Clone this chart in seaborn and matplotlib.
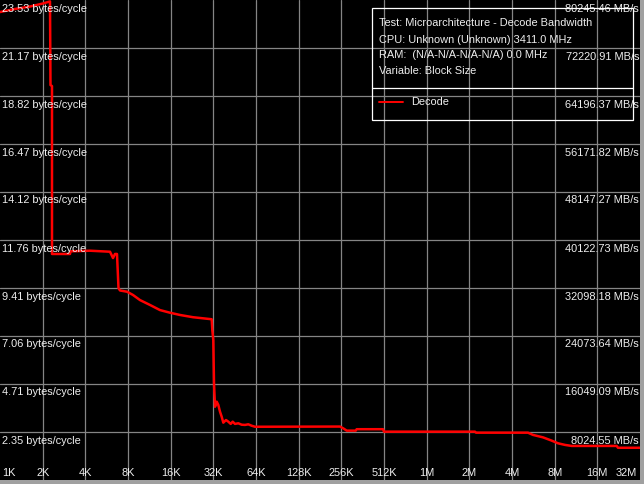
import matplotlib
matplotlib.use("Agg")
import matplotlib.pyplot as plt
import seaborn as sns
import pandas as pd
from matplotlib.ticker import NullLocator, FixedLocator
from matplotlib.patches import Rectangle
from matplotlib.lines import Line2D

# ---------------- data ----------------
block_kb = [1.0, 1.276, 1.628, 2.011, 2.253, 2.271, 2.327, 2.327, 3.118, 3.143,
            4.315, 5.972, 6.27, 6.477, 6.69, 6.855, 7.025, 7.874, 8.676, 9.72,
            11.44, 13.45, 15.83, 18.62, 22.99, 31.16, 31.47, 31.98, 32.35, 32.88,
            33.80, 34.69, 35.66, 36.66, 37.63, 39.31, 40.81, 42.43, 43.83, 45.50,
            48.0, 50.74, 53.52, 56.49, 59.68, 62.99, 250.5, 264.4, 279.4, 323.3,
            328.6, 503.9, 512.0, 2246, 2282, 5311, 5761, 6779, 7804, 8648,
            9690, 10800, 22440, 22920, 32768]
bytes_per_cycle = [22.94, 23.09, 23.21, 23.36, 23.46, 19.36, 19.31, 11.08, 11.08, 11.21,
                   11.24, 11.19, 10.88, 11.08, 11.08, 9.41, 9.29, 9.23, 9.07, 8.82,
                   8.58, 8.33, 8.20, 8.09, 7.98, 7.88, 7.35, 6.86, 4.75, 3.59,
                   3.84, 3.68, 3.35, 3.10, 2.81, 2.94, 2.86, 2.75, 2.86, 2.75,
                   2.78, 2.71, 2.70, 2.73, 2.66, 2.61, 2.62, 2.53, 2.42, 2.42,
                   2.49, 2.49, 2.37, 2.37, 2.32, 2.32, 2.21, 2.09, 1.93, 1.80,
                   1.72, 1.67, 1.67, 1.58, 1.58]

y_tick_values = [23.53, 21.17, 18.82, 16.47, 14.12, 11.76, 9.41, 7.06, 4.71, 2.35]
y_left_labels = ["23.53 bytes/cycle", "21.17 bytes/cycle", "18.82 bytes/cycle",
                 "16.47 bytes/cycle", "14.12 bytes/cycle", "11.76 bytes/cycle",
                 "9.41 bytes/cycle", "7.06 bytes/cycle", "4.71 bytes/cycle",
                 "2.35 bytes/cycle"]
y_right_labels = ["80245.46 MB/s", "72220.91 MB/s", "64196.37 MB/s", "56171.82 MB/s",
                  "48147.27 MB/s", "40122.73 MB/s", "32098.18 MB/s", "24073.64 MB/s",
                  "16049.09 MB/s", "8024.55 MB/s"]
x_tick_values = [1, 2, 4, 8, 16, 32, 64, 128, 256, 512, 1024, 2048, 4096, 8192, 16384, 32768]
x_tick_labels = ["1K", "2K", "4K", "8K", "16K", "32K", "64K", "128K", "256K", "512K",
                 "1M", "2M", "4M", "8M", "16M", "32M"]

info_lines = ["Test: Microarchitecture - Decode Bandwidth",
              "CPU: Unknown (Unknown) 3411.0 MHz",
              "RAM:  (N/A-N/A-N/A-N/A) 0.0 MHz",
              "Variable: Block Size"]
series_name = "Decode"

df = pd.DataFrame({"block": block_kb, "bpc": bytes_per_cycle})

# ---------------- styling ----------------
sns.set_style("dark")
plt.rcParams["font.family"] = ["Liberation Sans", "DejaVu Sans"]
TXT = "#eeeeee"
GRID = "#858585"
FS = 7.9

W, H = 644, 484
fig = plt.figure(figsize=(W / 100, H / 100), dpi=100, facecolor="#a0a0a0")
AW, AH = 640, 480
ax = fig.add_axes([0, (H - AH) / H, AW / W, AH / H])
ax.set_facecolor("black")

sns.lineplot(data=df, x="block", y="bpc", ax=ax, color="#ff0000", linewidth=1.8,
             sort=False, estimator=None, legend=False, zorder=5)

ax.set_xscale("log", base=2)
ax.set_xlim(1, 32768)
ax.set_ylim(0, 23.53)
# grid lines only at interior ticks
ax.xaxis.set_major_locator(FixedLocator(x_tick_values[1:-1]))
ax.yaxis.set_major_locator(FixedLocator(y_tick_values[1:]))
ax.xaxis.set_minor_locator(NullLocator())
ax.yaxis.set_minor_locator(NullLocator())
ax.grid(True, color=GRID, linewidth=0.9, zorder=1)
ax.set_axisbelow(True)
ax.tick_params(length=0, labelbottom=False, labelleft=False)
ax.set_xlabel("")
ax.set_ylabel("")
for s in ax.spines.values():
    s.set_visible(False)

# y labels (inside plot)
for v, l, r in zip(y_tick_values, y_left_labels, y_right_labels):
    ax.annotate(l, xy=(0, v), xycoords=("axes fraction", "data"),
                xytext=(2, -8.5), textcoords="offset pixels",
                ha="left", va="center", color=TXT, fontsize=FS, zorder=6)
    ax.annotate(r, xy=(1, v), xycoords=("axes fraction", "data"),
                xytext=(-1, -8.5), textcoords="offset pixels",
                ha="right", va="center", color=TXT, fontsize=FS, zorder=6)

# x labels
n = len(x_tick_values)
for i, (v, l) in enumerate(zip(x_tick_values, x_tick_labels)):
    if i == 0:
        ha, dx = "left", 2
    elif i == n - 1:
        ha, dx = "right", -3
    else:
        ha, dx = "center", 0
    ax.annotate(l, xy=(v, 0), xycoords=("data", "axes fraction"),
                xytext=(dx, 7.5), textcoords="offset pixels",
                ha=ha, va="center", color=TXT, fontsize=FS, zorder=6)

# legend / info box
def px(x, y):
    return x / AW, 1 - y / AH

x0, y0 = px(371.7, 120)
x1, y1 = px(632.7, 8.3)
ax.add_patch(Rectangle((x0, y0), x1 - x0, y1 - y0, transform=ax.transAxes,
                       fill=False, edgecolor="white", linewidth=0.9, zorder=7))
sx0, sy = px(371.7, 88.3)
sx1, _ = px(632.7, 88.3)
ax.add_line(Line2D([sx0, sx1], [sy, sy], transform=ax.transAxes, color="white",
                   linewidth=0.9, zorder=7))
for yy, t in zip([23.3, 39.7, 54.8, 70.7], info_lines):
    tx, ty = px(379, yy)
    ax.text(tx, ty, t, transform=ax.transAxes, ha="left", va="center",
            color=TXT, fontsize=FS, zorder=8)
lx0, ly = px(379, 101.7)
lx1, _ = px(403, 101.7)
ax.add_line(Line2D([lx0, lx1], [ly, ly], transform=ax.transAxes, color="#ff0000",
                   linewidth=1.4, zorder=8))
tx, ty = px(411, 101.7)
ax.text(tx, ty, series_name, transform=ax.transAxes, ha="left", va="center",
        color=TXT, fontsize=FS, zorder=8)

fig.savefig("out.png", dpi=100, facecolor=fig.get_facecolor())
